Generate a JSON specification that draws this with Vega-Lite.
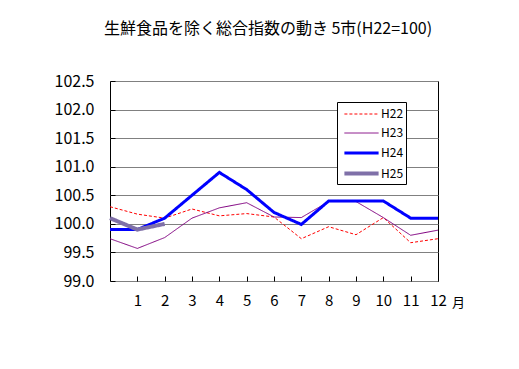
{
  "$schema": "https://vega.github.io/schema/vega-lite/v6.json",
  "width": 328,
  "height": 200,
  "autosize": {"type": "none"},
  "padding": {"left": 110, "top": 81, "right": 81, "bottom": 88},
  "background": "white",
  "title": {
    "text": "生鮮食品を除く総合指数の動き 5市(H22=100)",
    "font": "Noto Sans CJK JP",
    "fontSize": 16,
    "fontWeight": "normal",
    "color": "black",
    "anchor": "middle",
    "dx": -6,
    "offset": 36
  },
  "data": {
    "values": [
      {"m": 0, "s": "H22", "v": 100.30}, {"m": 1, "s": "H22", "v": 100.17}, {"m": 2, "s": "H22", "v": 100.10},
      {"m": 3, "s": "H22", "v": 100.26}, {"m": 4, "s": "H22", "v": 100.14}, {"m": 5, "s": "H22", "v": 100.18},
      {"m": 6, "s": "H22", "v": 100.12}, {"m": 7, "s": "H22", "v": 99.74}, {"m": 8, "s": "H22", "v": 99.95},
      {"m": 9, "s": "H22", "v": 99.81}, {"m": 10, "s": "H22", "v": 100.11}, {"m": 11, "s": "H22", "v": 99.67},
      {"m": 12, "s": "H22", "v": 99.74},
      {"m": 0, "s": "H23", "v": 99.74}, {"m": 1, "s": "H23", "v": 99.57}, {"m": 2, "s": "H23", "v": 99.76},
      {"m": 3, "s": "H23", "v": 100.10}, {"m": 4, "s": "H23", "v": 100.28}, {"m": 5, "s": "H23", "v": 100.37},
      {"m": 6, "s": "H23", "v": 100.12}, {"m": 7, "s": "H23", "v": 100.11}, {"m": 8, "s": "H23", "v": 100.39},
      {"m": 9, "s": "H23", "v": 100.39}, {"m": 10, "s": "H23", "v": 100.11}, {"m": 11, "s": "H23", "v": 99.80},
      {"m": 12, "s": "H23", "v": 99.89},
      {"m": 0, "s": "H24", "v": 99.90}, {"m": 1, "s": "H24", "v": 99.90}, {"m": 2, "s": "H24", "v": 100.10},
      {"m": 3, "s": "H24", "v": 100.50}, {"m": 4, "s": "H24", "v": 100.90}, {"m": 5, "s": "H24", "v": 100.60},
      {"m": 6, "s": "H24", "v": 100.20}, {"m": 7, "s": "H24", "v": 99.99}, {"m": 8, "s": "H24", "v": 100.40},
      {"m": 9, "s": "H24", "v": 100.40}, {"m": 10, "s": "H24", "v": 100.40}, {"m": 11, "s": "H24", "v": 100.10},
      {"m": 12, "s": "H24", "v": 100.10},
      {"m": 0, "s": "H25", "v": 100.10}, {"m": 1, "s": "H25", "v": 99.90}, {"m": 2, "s": "H25", "v": 100.00}
    ]
  },
  "mark": {"type": "line", "strokeCap": "butt", "strokeJoin": "miter"},
  "encoding": {
    "x": {
      "field": "m",
      "type": "quantitative",
      "scale": {"domain": [0, 12], "nice": false, "zero": false},
      "axis": {
        "values": [1, 2, 3, 4, 5, 6, 7, 8, 9, 10, 11, 12],
        "grid": false,
        "tickSize": -5,
        "tickColor": "black",
        "domain": false,
        "labelFont": "Noto Sans CJK JP",
        "labelFontSize": 15,
        "labelColor": "black",
        "labelPadding": 17,
        "labelFlush": false,
        "title": "月",
        "titleFont": "Noto Sans CJK JP",
        "titleFontSize": 13,
        "titleFontWeight": "normal",
        "titleColor": "black",
        "titleX": 348,
        "titleY": 21,
        "titleAlign": "center",
        "titleBaseline": "middle",
        "titleAngle": 0
      }
    },
    "y": {
      "field": "v",
      "type": "quantitative",
      "scale": {"domain": [99, 102.5], "nice": false, "zero": false},
      "axis": {
        "values": [99, 99.5, 100, 100.5, 101, 101.5, 102, 102.5],
        "format": ".1f",
        "grid": true,
        "gridColor": "#808080",
        "gridWidth": 1,
        "gridOpacity": 1,
        "tickSize": -5,
        "tickColor": "black",
        "domain": false,
        "labelFont": "Noto Sans CJK JP",
        "labelFontSize": 16,
        "labelColor": "black",
        "labelPadding": 21,
        "labelFlush": false,
        "title": null
      }
    },
    "color": {
      "field": "s",
      "type": "nominal",
      "scale": {"domain": ["H22", "H23", "H24", "H25"], "range": ["#FF0000", "#800080", "#0000FF", "#7F70A8"]},
      "legend": {
        "title": null,
        "encode": {
          "symbols": {
            "update": {
              "strokeWidth": {"signal": "datum.value === 'H24' ? 3 : datum.value === 'H25' ? 4 : 1"},
              "strokeDash": {"signal": "datum.value === 'H22' ? [3, 2] : [1, 0]"}
            }
          }
        }
      }
    },
    "strokeWidth": {
      "field": "s",
      "type": "nominal",
      "scale": {"type": "ordinal", "domain": ["H22", "H23", "H24", "H25"], "range": [1, 1, 3, 4]},
      "legend": null
    },
    "strokeDash": {
      "field": "s",
      "type": "nominal",
      "scale": {"domain": ["H22", "H23", "H24", "H25"], "range": [[3, 2], [1, 0], [1, 0], [1, 0]]},
      "legend": null
    },
    "order": {"field": "m", "type": "quantitative"}
  },
  "config": {
    "view": {"stroke": "black", "strokeWidth": 1},
    "legend": {
      "orient": "none",
      "legendX": 227,
      "legendY": 21,
      "fillColor": "white",
      "strokeColor": "black",
      "padding": 2,
      "symbolType": "M-1.8,0H1.8",
      "symbolSize": 361,
      "symbolOffset": 11,
      "labelFont": "Noto Sans CJK JP",
      "labelFontSize": 12,
      "labelColor": "black",
      "labelOffset": 8,
      "rowPadding": 3
    }
  }
}
